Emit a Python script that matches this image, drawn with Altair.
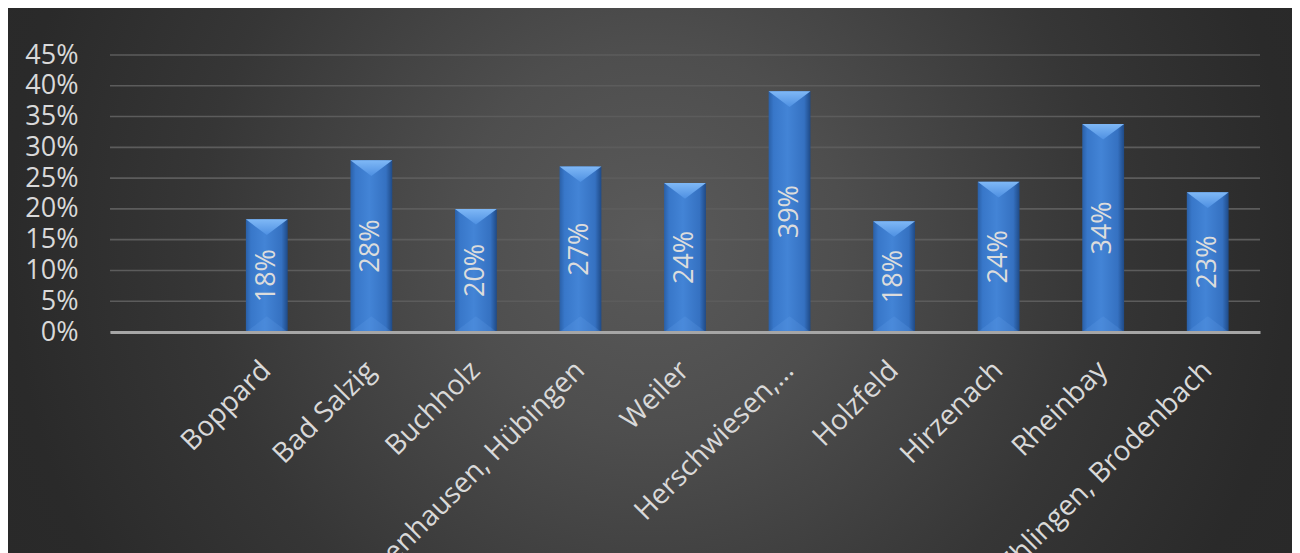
import altair as alt
import pandas as pd

categories = ["", "Boppard", "Bad Salzig", "Buchholz", "Oppenhausen, Hübingen", "Weiler",
              "Herschwiesen,…", "Holzfeld", "Hirzenach", "Rheinbay", "Ehlingen, Brodenbach"]
values = [None, 0.183, 0.279, 0.200, 0.269, 0.242, 0.391, 0.180, 0.244, 0.338, 0.227]
y_ticks = [0.0, 0.05, 0.10, 0.15, 0.20, 0.25, 0.30, 0.35, 0.40, 0.45]

W, H = 1150, 277
PL, PT, PR, PB = 102, 47, 32, 221
FONT = "Open Sans"
LABEL = "#d9d9d9"

df = pd.DataFrame({"cat": categories, "value": values})
grid_df = pd.DataFrame({"t": y_ticks})

xscale = alt.Scale(domain=categories, paddingInner=0.6, paddingOuter=0.3)
yscale = alt.Scale(domain=[0, 0.45], nice=False, zero=True)

x_axis = alt.Axis(labelAngle=-45, labelAlign="right", labelBaseline="middle",
                  labelPadding=34, labelFont=FONT, labelFontSize=28,
                  labelColor=LABEL, labelLimit=1000, ticks=False, tickSize=0,
                  domainColor="#a6a6a6", domainWidth=3, grid=False, zindex=1,
                  labelOverlap=False, title=None)
y_axis = alt.Axis(values=y_ticks, format=".0%", grid=False, ticks=False,
                  tickSize=0, domain=False, labelPadding=32, labelFont=FONT,
                  labelFontSize=27, labelColor=LABEL, zindex=1,
                  labelBaseline="middle", title=None)

bg_fill = {
    "gradient": "radial",
    "x1": 0.5, "y1": 0.468, "r1": 0,
    "x2": 0.5, "y2": 0.468, "r2": 1,
    "stops": [
        {"offset": 0, "color": "#5a5a5a"},
        {"offset": 0.15, "color": "#4e4e4e"},
        {"offset": 0.35, "color": "#363636"},
        {"offset": 0.5, "color": "#2a2a2a"},
        {"offset": 1, "color": "#222222"},
    ],
}

bg = alt.Chart(grid_df).mark_rect(fill=bg_fill, strokeWidth=0).encode(
    x=alt.value(-PL), x2=alt.value(W + PR),
    y=alt.value(-PT), y2=alt.value(H + PB),
)

grid = alt.Chart(grid_df).mark_rule(color="#5c5c5c", strokeWidth=1.6).encode(
    y=alt.Y("t:Q", scale=yscale, axis=y_axis),
    x=alt.value(0), x2=alt.value(W),
)

bar_fill = {
    "gradient": "linear", "x1": 0, "y1": 0, "x2": 1, "y2": 0,
    "stops": [
        {"offset": 0, "color": "#2a60a8"},
        {"offset": 0.12, "color": "#3877c9"},
        {"offset": 0.45, "color": "#4384d6"},
        {"offset": 0.85, "color": "#3571c1"},
        {"offset": 1, "color": "#1f4a86"},
    ],
}

base = alt.Chart(df).transform_filter("isValid(datum.value)")

X = alt.X("cat:N", sort=categories, scale=xscale, axis=x_axis)

bars = base.mark_bar(fill=bar_fill, strokeWidth=0).encode(
    x=X,
    y=alt.Y("value:Q", scale=yscale, axis=y_axis),
)

top_cap = base.mark_point(
    shape="M-1,0L1,0L0,0.75Z", filled=True, size=1747, opacity=1, strokeWidth=0,
    fill={"gradient": "linear", "x1": 0, "y1": 0, "x2": 0, "y2": 1,
          "stops": [{"offset": 0, "color": "#7fb8f6"}, {"offset": 1, "color": "#4e90e2"}]},
).encode(
    x=X,
    y=alt.Y("value:Q", scale=yscale, axis=y_axis),
)

bottom_cap = base.mark_point(
    shape="M-1,0L1,0L0,-0.75Z", filled=True, size=1747, opacity=0.2, strokeWidth=0,
    fill="#6aa6ee",
).encode(
    x=X,
    y=alt.Y("zero:Q", scale=yscale, axis=y_axis),
).transform_calculate(zero="0")

labels = base.mark_text(
    angle=270, align="center", baseline="middle", font=FONT, fontSize=27, color="#dcdcdc",
).encode(
    x=X,
    y=alt.Y("mid:Q", scale=yscale, axis=y_axis),
    text=alt.Text("value:Q", format=".0%"),
).transform_calculate(mid="datum.value / 2")

chart = alt.layer(bg, grid, bars, top_cap, bottom_cap, labels).properties(
    width=W, height=H,
    autosize=alt.AutoSizeParams(type="none"),
    padding={"left": PL, "top": PT, "right": PR, "bottom": PB},
    background="#2b2b2b",
).configure_view(stroke=None)

chart.save("out.html", embed_options={"renderer": "svg", "actions": False})
